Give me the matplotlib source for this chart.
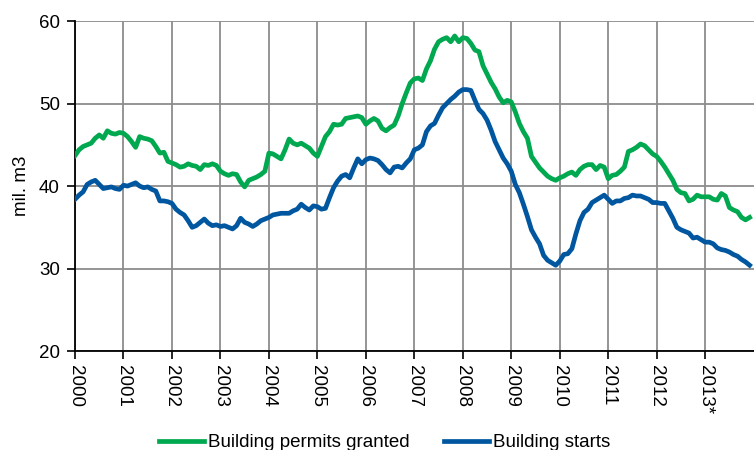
import numpy as np
import matplotlib
matplotlib.use("Agg")
import matplotlib.pyplot as plt

# monthly values, Jan 2000 .. Dec 2013 (mil. m3, 12-month moving sum)
permits = [
    43.7, 44.4, 44.8, 45.0, 45.2, 45.8, 46.2, 45.8, 46.7, 46.4, 46.3, 46.5,  # 2000
    46.4, 46.0, 45.4, 44.7, 46.0, 45.8, 45.7, 45.5, 44.8, 44.0, 44.1, 43.0,  # 2001
    42.8, 42.6, 42.3, 42.4, 42.7, 42.5, 42.4, 42.0, 42.6, 42.5, 42.7, 42.5,  # 2002
    41.8, 41.5, 41.3, 41.5, 41.4, 40.5, 39.9, 40.7, 40.9, 41.1, 41.4, 41.8,  # 2003
    44.0, 43.9, 43.6, 43.3, 44.4, 45.7, 45.2, 45.0, 45.2, 44.9, 44.6, 44.0,  # 2004
    43.6, 44.8, 46.0, 46.6, 47.5, 47.4, 47.5, 48.2, 48.3, 48.4, 48.5, 48.3,  # 2005
    47.5, 47.9, 48.2, 47.9, 47.0, 46.7, 47.1, 47.4, 48.5, 50.0, 51.3, 52.5,  # 2006
    53.0, 53.1, 52.8, 54.2, 55.2, 56.6, 57.5, 57.8, 58.0, 57.5, 58.2, 57.5,  # 2007
    58.0, 57.9, 57.3, 56.5, 56.3, 54.6, 53.6, 52.6, 51.8, 50.8, 50.1, 50.4,  # 2008
    50.2, 49.0, 47.6, 46.6, 45.8, 43.6, 42.9, 42.2, 41.7, 41.2, 40.9, 40.7,  # 2009
    41.0, 41.2, 41.5, 41.7, 41.3, 42.0, 42.4, 42.6, 42.6, 42.0, 42.5, 42.3,  # 2010
    40.9, 41.3, 41.4, 41.8, 42.3, 44.2, 44.4, 44.7, 45.1, 44.9, 44.4, 43.9,  # 2011
    43.6, 43.0, 42.3, 41.5, 40.7, 39.6, 39.2, 39.1, 38.2, 38.4, 38.9, 38.7,  # 2012
    38.7, 38.7, 38.4, 38.3, 39.1, 38.8, 37.4, 37.1, 36.9, 36.2, 35.9, 36.2,  # 2013
]
starts = [
    38.4, 38.9, 39.3, 40.2, 40.5, 40.7, 40.2, 39.7, 39.8, 39.9, 39.7, 39.6,  # 2000
    40.1, 40.0, 40.2, 40.4, 40.0, 39.8, 39.9, 39.6, 39.4, 38.2, 38.2, 38.1,  # 2001
    37.9, 37.2, 36.8, 36.5, 35.8, 35.0, 35.2, 35.6, 36.0, 35.5, 35.2, 35.3,  # 2002
    35.1, 35.2, 35.0, 34.8, 35.2, 36.1, 35.6, 35.4, 35.1, 35.4, 35.8, 36.0,  # 2003
    36.2, 36.5, 36.6, 36.7, 36.7, 36.7, 37.0, 37.2, 37.8, 37.4, 37.1, 37.6,  # 2004
    37.5, 37.2, 37.3, 38.6, 39.8, 40.6, 41.2, 41.4, 41.0, 42.2, 43.3, 42.7,  # 2005
    43.2, 43.4, 43.3, 43.1, 42.6, 42.0, 41.6, 42.3, 42.4, 42.2, 42.8, 43.3,  # 2006
    44.4, 44.6, 45.0, 46.6, 47.3, 47.6, 48.6, 49.5, 50.0, 50.5, 50.9, 51.4,  # 2007
    51.7, 51.7, 51.6, 50.4, 49.3, 48.8, 48.0, 46.8, 45.4, 44.4, 43.4, 42.7,  # 2008
    41.8, 40.2, 39.2, 37.8, 36.3, 34.7, 33.8, 33.0, 31.6, 31.0, 30.7, 30.4,  # 2009
    30.9, 31.7, 31.8, 32.4, 34.2, 35.8, 36.8, 37.2, 38.0, 38.3, 38.6, 38.9,  # 2010
    38.4, 37.9, 38.2, 38.2, 38.5, 38.6, 38.9, 38.8, 38.8, 38.6, 38.4, 38.0,  # 2011
    38.0, 37.9, 37.9, 37.0, 36.1, 35.0, 34.7, 34.5, 34.3, 33.7, 33.8, 33.5,  # 2012
    33.2, 33.2, 33.0, 32.5, 32.3, 32.2, 32.0, 31.7, 31.5, 31.1, 30.8, 30.4,  # 2013
]
years = ["2000", "2001", "2002", "2003", "2004", "2005", "2006",
         "2007", "2008", "2009", "2010", "2011", "2012", "2013*"]

green = "#00A84F"
blue = "#0057A0"
grid_col = "#8C8C8C"
fs = 13.5

plt.rcParams['font.family'] = ['Liberation Sans', 'DejaVu Sans']

fig = plt.figure(figsize=(7.54, 4.5), dpi=100)
ax = fig.add_axes([0.0995, 0.22, 0.9, 0.733])

months = np.arange(len(permits))
ax.plot(months, permits, color=green, lw=3.4, label="Building permits granted",
        solid_joinstyle="round", zorder=3)
ax.plot(months, starts, color=blue, lw=3.4, label="Building starts",
        solid_joinstyle="round", zorder=3)

ax.set_xlim(0, 168)
ax.set_ylim(20, 60)
ax.set_yticks([20, 30, 40, 50, 60])
ax.set_xticks(np.arange(0, 168, 12))
ax.set_xticklabels(years, rotation=270, fontsize=fs)
ax.tick_params(axis="y", labelsize=fs, direction="out", length=6, width=1.2, pad=5)
ax.tick_params(axis="x", direction="out", length=6, width=1.2, pad=4)

ax.grid(True, color=grid_col, lw=1.3)
ax.set_axisbelow(True)
for s in ["top", "right"]:
    ax.spines[s].set_visible(False)
for s in ["left", "bottom"]:
    ax.spines[s].set_color("black")
    ax.spines[s].set_linewidth(1.3)
ax.set_ylabel("mil. m3", fontsize=fs, labelpad=6)

fig.legend(loc="lower center", bbox_to_anchor=(0.51, -0.04), ncol=2, frameon=False,
           fontsize=fs, handlelength=2.4, handletextpad=0.25, columnspacing=1.8)

fig.savefig("out.png", dpi=100)
